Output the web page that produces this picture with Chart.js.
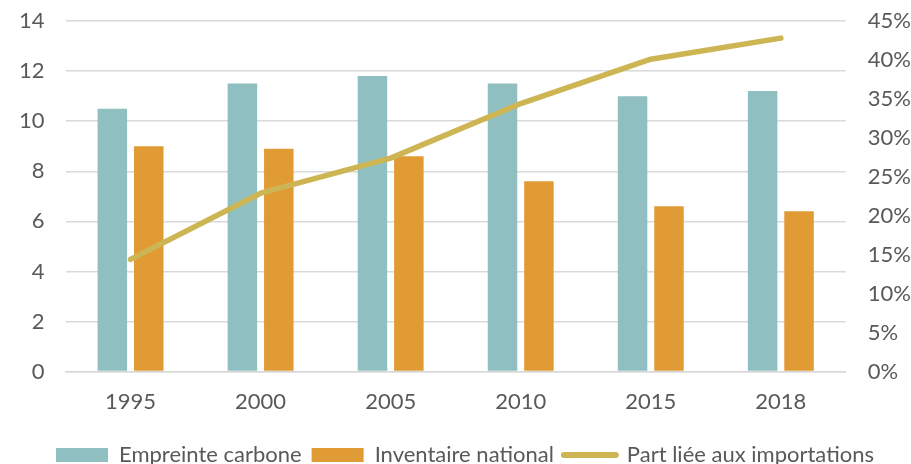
<!DOCTYPE html>
<html>
<head>
<meta charset="utf-8">
<script src="https://cdn.jsdelivr.net/npm/chart.js@4/dist/chart.umd.min.js"></script>
<style>
  html, body { margin: 0; padding: 0; background: #ffffff; }
  #wrap { width: 911px; height: 464px; }
</style>
</head>
<body>
<div id="wrap"><canvas id="c" width="911" height="464"></canvas></div>
<script>
const categories = ['1995', '2000', '2005', '2010', '2015', '2018'];
const empreinteCarbone = [10.5, 11.5, 11.8, 11.5, 11.0, 11.2];
const inventaireNational = [9.0, 8.9, 8.6, 7.6, 6.6, 6.4];
const partImportations = [0.144, 0.229, 0.274, 0.344, 0.401, 0.428];
const seriesNames = ['Empreinte carbone', 'Inventaire national', 'Part liée aux importations'];

const FONT = 'Lato, "Open Sans", sans-serif';
const TXT = '#595959';

new Chart(document.getElementById('c'), {
  data: {
    labels: categories,
    datasets: [
      {
        type: 'line',
        label: seriesNames[2],
        data: partImportations,
        yAxisID: 'y1',
        borderColor: '#CDB554',
        backgroundColor: '#CDB554',
        borderWidth: 5.5,
        borderCapStyle: 'round',
        borderJoinStyle: 'round',
        pointRadius: 0,
        tension: 0,
        order: 0
      },
      {
        type: 'bar',
        label: seriesNames[0],
        data: empreinteCarbone,
        yAxisID: 'y',
        backgroundColor: '#8FBFC0',
        categoryPercentage: 0.56,
        barPercentage: 0.81,
        order: 1
      },
      {
        type: 'bar',
        label: seriesNames[1],
        data: inventaireNational,
        yAxisID: 'y',
        backgroundColor: '#E09B35',
        categoryPercentage: 0.56,
        barPercentage: 0.81,
        order: 1
      }
    ]
  },
  options: {
    responsive: false,
    animation: false,
    layout: { padding: { top: 21, left: 19, right: 0, bottom: -12 } },
    plugins: {
      tooltip: { enabled: false },
      legend: {
        position: 'bottom',
        labels: {
          font: { family: FONT, size: 22 },
          color: TXT,
          usePointStyle: true,
          pointStyleWidth: 52,
          boxHeight: 14,
          padding: 10,
          sort: (a, b) => a.datasetIndex === 0 ? 1 : (b.datasetIndex === 0 ? -1 : a.datasetIndex - b.datasetIndex),
          generateLabels: (chart) => {
            const items = Chart.defaults.plugins.legend.labels.generateLabels(chart);
            items.forEach(it => {
              const ds = chart.data.datasets[it.datasetIndex];
              if (ds.type === 'line') {
                it.pointStyle = 'line';
                it.lineWidth = 6;
                it.strokeStyle = ds.borderColor;
                it.lineCap = 'round';
              } else {
                it.pointStyle = 'rect';
                it.lineWidth = 0;
                it.strokeStyle = ds.backgroundColor;
              }
              it.fontColor = TXT;
            });
            return items;
          }
        }
      }
    },
    scales: {
      x: {
        grid: { display: false, drawTicks: false },
        border: { display: true, color: '#D9D9D9', width: 1.5 },
        ticks: { font: { family: FONT, size: 22 }, color: TXT, padding: 17 },
        afterFit: (scale) => { scale.height += 2; }
      },
      y: {
        position: 'left',
        min: 0, max: 14,
        ticks: { stepSize: 2, font: { family: FONT, size: 22 }, color: TXT, padding: 0 },
        grid: { color: '#D9D9D9', lineWidth: 1.5, drawTicks: true, tickLength: 21, tickColor: 'rgba(0,0,0,0)' },
        border: { display: false }
      },
      y1: {
        position: 'right',
        min: 0, max: 0.45,
        ticks: {
          stepSize: 0.05,
          font: { family: FONT, size: 22 },
          color: TXT,
          padding: 0,
          callback: v => Math.round(v * 100) + '%'
        },
        grid: { display: true, drawOnChartArea: false, drawTicks: true, tickLength: 22, color: 'rgba(0,0,0,0)', tickColor: 'rgba(0,0,0,0)' },
        border: { display: false }
      }
    }
  }
});
</script>
</body>
</html>
